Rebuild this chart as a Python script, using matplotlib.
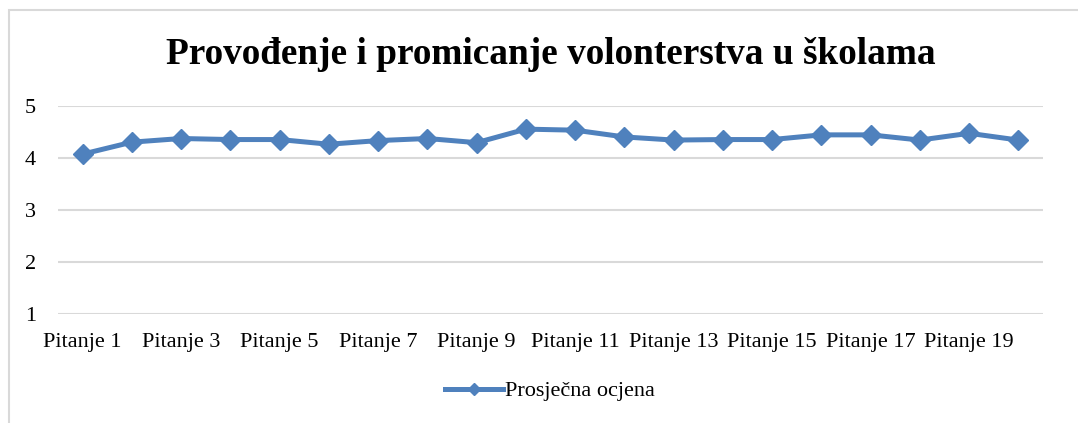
import matplotlib
matplotlib.use("Agg")
import matplotlib.pyplot as plt
from matplotlib.patches import Rectangle
from matplotlib.lines import Line2D

categories = [f"Pitanje {i}" for i in range(1, 21)]
values = [4.07, 4.30, 4.37, 4.35, 4.35, 4.26, 4.33, 4.37, 4.29, 4.55,
          4.53, 4.40, 4.34, 4.35, 4.35, 4.44, 4.44, 4.34, 4.47, 4.34]
yticks = [1, 2, 3, 4, 5]
title = "Provođenje i promicanje volonterstva u školama"
series_name = "Prosječna ocjena"

W, H = 1078, 423
fig = plt.figure(figsize=(W / 100, H / 100), dpi=100)
plt.rcParams['font.family'] = ['Liberation Serif', 'DejaVu Serif']

# outer chart border
fig.patches.append(Rectangle((9 / W, -0.1), 1.2, 1 - 10 / H + 0.1, transform=fig.transFigure,
                             fill=False, edgecolor='#D9D9D9', linewidth=1.5))

ax = fig.add_axes([58 / W, 1 - 314 / H, (1043 - 58) / W, (314 - 105.7) / H])
x = list(range(len(categories)))
color = '#4F81BD'
ax.plot(x, values, color=color, linewidth=3.6, marker='D', markersize=10,
        markeredgecolor=color, markerfacecolor=color, solid_joinstyle='round', zorder=3)

ax.set_xlim(-0.5, len(categories) - 0.5)
ax.set_ylim(1, 5)
ax.set_yticks(yticks)
ax.set_yticklabels([str(v) for v in yticks], fontsize=16)
ax.set_xticks(x[::2])
ax.set_xticklabels(categories[::2], fontsize=16)
ax.tick_params(axis='both', length=0)
ax.tick_params(axis='y', pad=16)
ax.tick_params(axis='x', pad=14)
for s in ax.spines.values():
    s.set_visible(False)
ax.grid(axis='y', color='#D9D9D9', linewidth=1.5)
ax.set_axisbelow(True)

fig.text(551 / W, 1 - 55 / H, title, ha='center', va='center', fontsize=26.8, fontweight='bold')

handle = Line2D([], [], color=color, linewidth=3.6, marker='D', markersize=6)
fig.legend([handle], [series_name], loc='center', bbox_to_anchor=(550 / W, 1 - 391 / H),
           frameon=False, fontsize=16, handlelength=2.6, handletextpad=0.1)

fig.savefig("out.png", dpi=100)
